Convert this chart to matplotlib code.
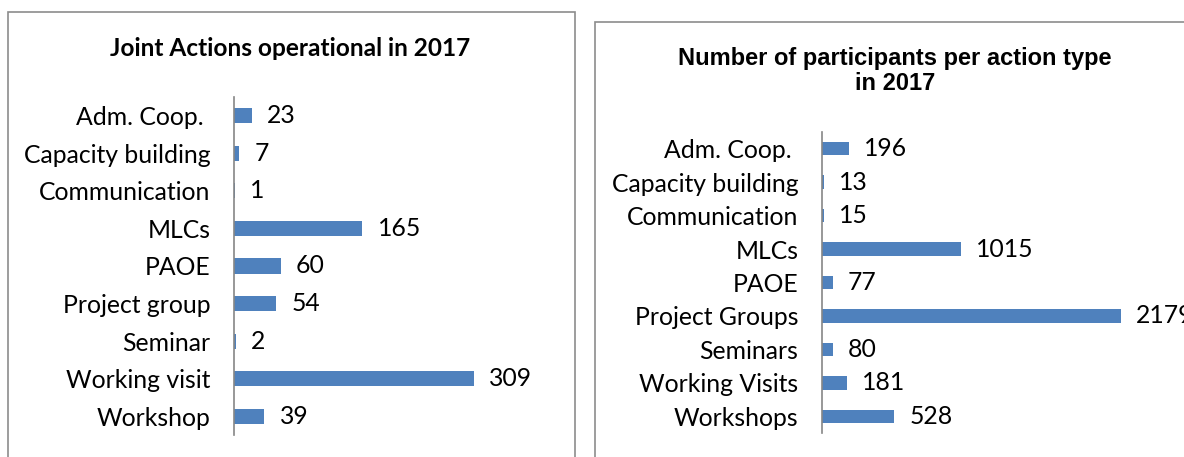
import matplotlib
matplotlib.use('Agg')
import matplotlib.pyplot as plt
from matplotlib.patches import Rectangle

# data
actions_cats = ['Adm. Coop. ', 'Capacity building', 'Communication', 'MLCs', 'PAOE',
                'Project group', 'Seminar', 'Working visit', 'Workshop']
actions_vals = [23, 7, 1, 165, 60, 54, 2, 309, 39]

part_cats = ['Adm. Coop. ', 'Capacity building', 'Communication', 'MLCs', 'PAOE',
             'Project Groups', 'Seminars', 'Working Visits', 'Workshops']
part_vals = [196, 13, 15, 1015, 77, 2179, 80, 181, 528]

BAR = '#4F81BD'
W, H = 1184, 457
LBL_FONT = ['Lato', 'DejaVu Sans']
FS = 17.8

fig = plt.figure(figsize=(W / 100, H / 100), dpi=100)

def fx(px):
    return px / W

def fy(py):
    return 1 - py / H

# panel frames
fig.add_artist(Rectangle((fx(8), fy(470)), fx(567), (470 - 12) / H, transform=fig.transFigure,
                         fill=False, edgecolor='#8C8C8C', lw=1.2))
fig.add_artist(Rectangle((fx(595), fy(470)), fx(620), (470 - 22) / H, transform=fig.transFigure,
                         fill=False, edgecolor='#8C8C8C', lw=1.2))

def panel(rect, cats, vals, xmax):
    ax = fig.add_axes(rect)
    y = range(len(cats))
    ax.barh(y, vals, height=0.4, color=BAR)
    ax.set_ylim(len(cats) - 0.5, -0.5)
    ax.set_xlim(0, xmax)
    ax.set_yticks(list(y))
    ax.set_yticklabels(cats, family=LBL_FONT, fontsize=FS)
    ax.tick_params(axis='y', length=0, pad=17)
    ax.set_xticks([])
    for s in ['top', 'right', 'bottom']:
        ax.spines[s].set_visible(False)
    ax.spines['left'].set_color('#868686')
    ax.spines['left'].set_linewidth(1.2)
    ax.patch.set_alpha(0)
    for i, v in enumerate(vals):
        ax.annotate(str(v), (v, i), xytext=(11, 0), textcoords='offset points',
                    va='center', ha='left', family=LBL_FONT, fontsize=FS,
                    annotation_clip=False)
    return ax

panel([fx(234), fy(435), fx(316), 338 / H], actions_cats, actions_vals, 316 / 0.777)
panel([fx(822), fy(433), fx(362), 301 / H], part_cats, part_vals, 362 / 0.137)

fig.text(fx(290), fy(48), 'Joint Actions operational in 2017', ha='center', va='center',
         family=LBL_FONT, fontsize=17.6, fontweight='bold')
fig.text(fx(895), fy(71), 'Number of participants per action type\nin 2017', ha='center',
         va='center', family=['Liberation Sans', 'DejaVu Sans'], fontsize=17,
         fontweight='bold', linespacing=1.1)

fig.savefig('out.png', dpi=100)
